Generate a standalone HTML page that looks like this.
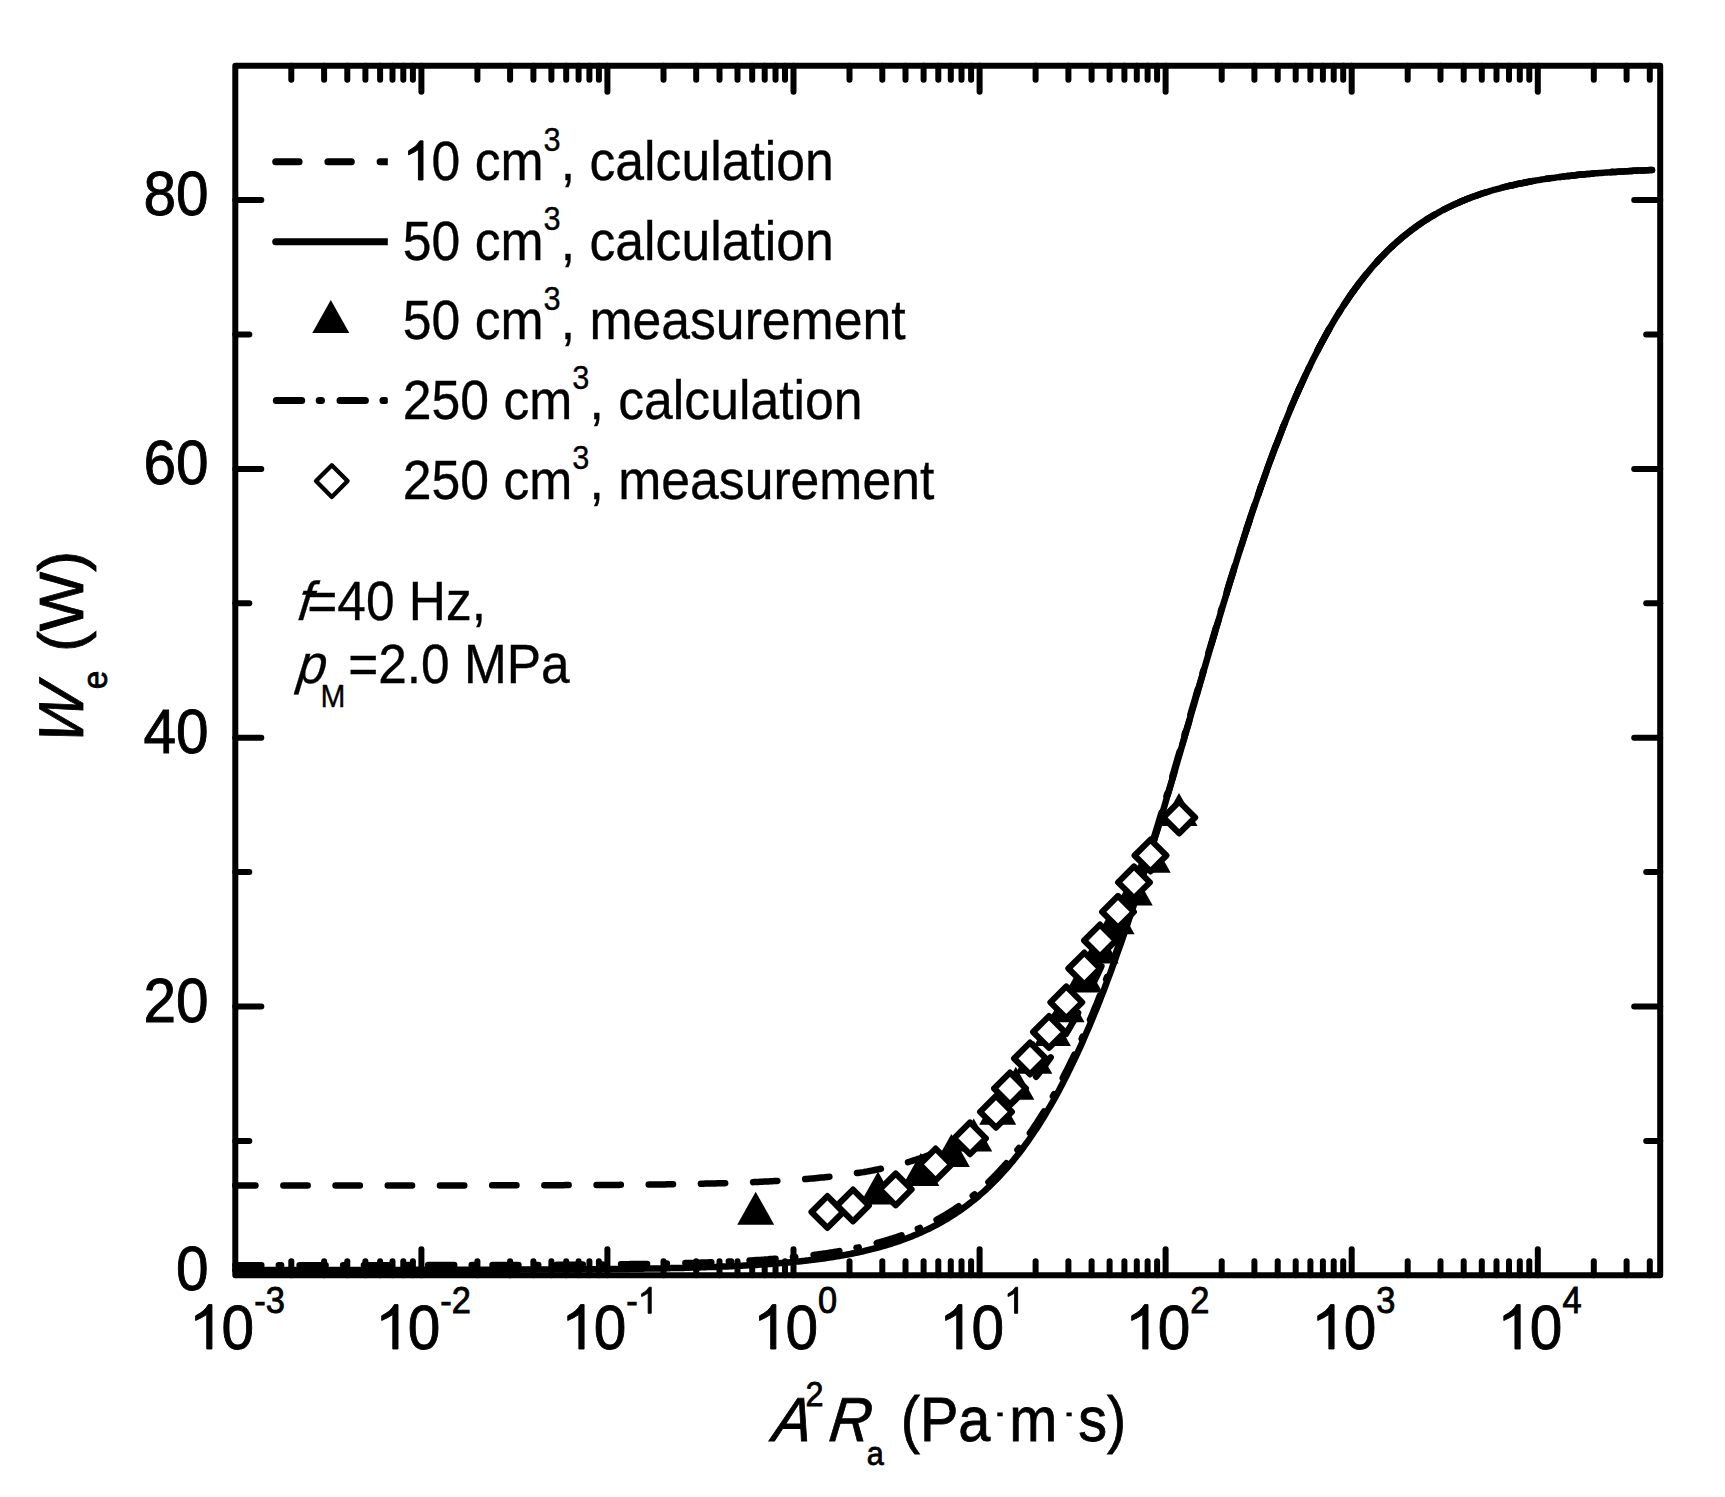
<!DOCTYPE html><html><head><meta charset="utf-8"><style>html,body{margin:0;padding:0;background:#fff;}svg{display:block;}text{font-family:"Liberation Sans",sans-serif;fill:#000;stroke:#000;stroke-width:0.9px;} text.l{stroke-width:0.35px;} text.t{stroke-width:0.8px;}</style></head><body>
<svg width="1725" height="1497" viewBox="0 0 1725 1497">
<rect x="0" y="0" width="1725" height="1497" fill="#fff"/>
<g fill="none" stroke="#000" stroke-width="6.5" stroke-linejoin="round">
<path d="M235.3 1269.9 L237.3 1269.9 L239.4 1269.9 L241.4 1269.9 L243.4 1269.9 L245.4 1269.9 L247.5 1269.9 L249.5 1269.9 L251.5 1269.9 L253.5 1269.9 L255.6 1269.9 L257.6 1269.9 L259.6 1269.9 L261.6 1269.9 L263.7 1269.9 L265.7 1269.9 L267.7 1269.9 L269.8 1269.9 L271.8 1269.9 L273.8 1269.9 L275.8 1269.9 L277.9 1269.9 L279.9 1269.9 L281.9 1269.9 L283.9 1269.9 L286.0 1269.9 L288.0 1269.9 L290.0 1269.9 L292.0 1269.9 L294.1 1269.9 L296.1 1269.9 L298.1 1269.9 L300.2 1269.9 L302.2 1269.9 L304.2 1269.9 L306.2 1269.9 L308.3 1269.9 L310.3 1269.9 L312.3 1269.9 L314.3 1269.9 L316.4 1269.9 L318.4 1269.9 L320.4 1269.9 L322.5 1269.9 L324.5 1269.9 L326.5 1269.9 L328.5 1269.9 L330.6 1269.9 L332.6 1269.9 L334.6 1269.9 L336.6 1269.9 L338.7 1269.9 L340.7 1269.9 L342.7 1269.9 L344.7 1269.9 L346.8 1269.9 L348.8 1269.9 L350.8 1269.9 L352.9 1269.9 L354.9 1269.9 L356.9 1269.9 L358.9 1269.9 L361.0 1269.9 L363.0 1269.9 L365.0 1269.9 L367.0 1269.9 L369.1 1269.9 L371.1 1269.9 L373.1 1269.9 L375.1 1269.9 L377.2 1269.9 L379.2 1269.9 L381.2 1269.9 L383.3 1269.9 L385.3 1269.9 L387.3 1269.9 L389.3 1269.9 L391.4 1269.9 L393.4 1269.9 L395.4 1269.9 L397.4 1269.9 L399.5 1269.9 L401.5 1269.9 L403.5 1269.9 L405.5 1269.9 L407.6 1269.9 L409.6 1269.9 L411.6 1269.9 L413.7 1269.8 L415.7 1269.8 L417.7 1269.8 L419.7 1269.8 L421.8 1269.8 L423.8 1269.8 L425.8 1269.8 L427.8 1269.8 L429.9 1269.8 L431.9 1269.8 L433.9 1269.8 L435.9 1269.8 L438.0 1269.8 L440.0 1269.8 L442.0 1269.8 L444.1 1269.8 L446.1 1269.8 L448.1 1269.8 L450.1 1269.8 L452.2 1269.8 L454.2 1269.8 L456.2 1269.8 L458.2 1269.8 L460.3 1269.8 L462.3 1269.8 L464.3 1269.8 L466.3 1269.8 L468.4 1269.8 L470.4 1269.8 L472.4 1269.8 L474.5 1269.8 L476.5 1269.8 L478.5 1269.8 L480.5 1269.8 L482.6 1269.7 L484.6 1269.7 L486.6 1269.7 L488.6 1269.7 L490.7 1269.7 L492.7 1269.7 L494.7 1269.7 L496.8 1269.7 L498.8 1269.7 L500.8 1269.7 L502.8 1269.7 L504.9 1269.7 L506.9 1269.7 L508.9 1269.7 L510.9 1269.7 L513.0 1269.7 L515.0 1269.7 L517.0 1269.7 L519.0 1269.7 L521.1 1269.6 L523.1 1269.6 L525.1 1269.6 L527.2 1269.6 L529.2 1269.6 L531.2 1269.6 L533.2 1269.6 L535.3 1269.6 L537.3 1269.6 L539.3 1269.6 L541.3 1269.6 L543.4 1269.6 L545.4 1269.5 L547.4 1269.5 L549.4 1269.5 L551.5 1269.5 L553.5 1269.5 L555.5 1269.5 L557.6 1269.5 L559.6 1269.5 L561.6 1269.5 L563.6 1269.5 L565.7 1269.4 L567.7 1269.4 L569.7 1269.4 L571.7 1269.4 L573.8 1269.4 L575.8 1269.4 L577.8 1269.4 L579.8 1269.3 L581.9 1269.3 L583.9 1269.3 L585.9 1269.3 L588.0 1269.3 L590.0 1269.3 L592.0 1269.3 L594.0 1269.2 L596.1 1269.2 L598.1 1269.2 L600.1 1269.2 L602.1 1269.2 L604.2 1269.1 L606.2 1269.1 L608.2 1269.1 L610.2 1269.1 L612.3 1269.1 L614.3 1269.0 L616.3 1269.0 L618.4 1269.0 L620.4 1269.0 L622.4 1268.9 L624.4 1268.9 L626.5 1268.9 L628.5 1268.9 L630.5 1268.8 L632.5 1268.8 L634.6 1268.8 L636.6 1268.8 L638.6 1268.7 L640.7 1268.7 L642.7 1268.7 L644.7 1268.6 L646.7 1268.6 L648.8 1268.6 L650.8 1268.5 L652.8 1268.5 L654.8 1268.5 L656.9 1268.4 L658.9 1268.4 L660.9 1268.4 L662.9 1268.3 L665.0 1268.3 L667.0 1268.2 L669.0 1268.2 L671.1 1268.1 L673.1 1268.1 L675.1 1268.1 L677.1 1268.0 L679.2 1268.0 L681.2 1267.9 L683.2 1267.9 L685.2 1267.8 L687.3 1267.8 L689.3 1267.7 L691.3 1267.6 L693.3 1267.6 L695.4 1267.5 L697.4 1267.5 L699.4 1267.4 L701.5 1267.3 L703.5 1267.3 L705.5 1267.2 L707.5 1267.1 L709.6 1267.1 L711.6 1267.0 L713.6 1266.9 L715.6 1266.9 L717.7 1266.8 L719.7 1266.7 L721.7 1266.6 L723.7 1266.5 L725.8 1266.4 L727.8 1266.4 L729.8 1266.3 L731.9 1266.2 L733.9 1266.1 L735.9 1266.0 L737.9 1265.9 L740.0 1265.8 L742.0 1265.7 L744.0 1265.6 L746.0 1265.5 L748.1 1265.3 L750.1 1265.2 L752.1 1265.1 L754.1 1265.0 L756.2 1264.9 L758.2 1264.7 L760.2 1264.6 L762.3 1264.5 L764.3 1264.3 L766.3 1264.2 L768.3 1264.1 L770.4 1263.9 L772.4 1263.8 L774.4 1263.6 L776.4 1263.4 L778.5 1263.3 L780.5 1263.1 L782.5 1262.9 L784.5 1262.8 L786.6 1262.6 L788.6 1262.4 L790.6 1262.2 L792.7 1262.0 L794.7 1261.8 L796.7 1261.6 L798.7 1261.4 L800.8 1261.2 L802.8 1261.0 L804.8 1260.8 L806.8 1260.5 L808.9 1260.3 L810.9 1260.0 L812.9 1259.8 L815.0 1259.5 L817.0 1259.3 L819.0 1259.0 L821.0 1258.7 L823.1 1258.5 L825.1 1258.2 L827.1 1257.9 L829.1 1257.6 L831.2 1257.3 L833.2 1257.0 L835.2 1256.6 L837.2 1256.3 L839.3 1256.0 L841.3 1255.6 L843.3 1255.3 L845.4 1254.9 L847.4 1254.5 L849.4 1254.1 L851.4 1253.7 L853.5 1253.3 L855.5 1252.9 L857.5 1252.5 L859.5 1252.1 L861.6 1251.6 L863.6 1251.2 L865.6 1250.7 L867.6 1250.2 L869.7 1249.7 L871.7 1249.2 L873.7 1248.7 L875.8 1248.2 L877.8 1247.6 L879.8 1247.1 L881.8 1246.5 L883.9 1245.9 L885.9 1245.3 L887.9 1244.7 L889.9 1244.1 L892.0 1243.5 L894.0 1242.8 L896.0 1242.1 L898.0 1241.5 L900.1 1240.8 L902.1 1240.0 L904.1 1239.3 L906.2 1238.5 L908.2 1237.8 L910.2 1237.0 L912.2 1236.2 L914.3 1235.3 L916.3 1234.5 L918.3 1233.6 L920.3 1232.7 L922.4 1231.8 L924.4 1230.9 L926.4 1229.9 L928.4 1229.0 L930.5 1228.0 L932.5 1226.9 L934.5 1225.9 L936.6 1224.8 L938.6 1223.7 L940.6 1222.6 L942.6 1221.5 L944.7 1220.3 L946.7 1219.1 L948.7 1217.9 L950.7 1216.6 L952.8 1215.3 L954.8 1214.0 L956.8 1212.6 L958.9 1211.3 L960.9 1209.9 L962.9 1208.4 L964.9 1207.0 L967.0 1205.4 L969.0 1203.9 L971.0 1202.3 L973.0 1200.7 L975.1 1199.1 L977.1 1197.4 L979.1 1195.7 L981.1 1193.9 L983.2 1192.1 L985.2 1190.3 L987.2 1188.4 L989.3 1186.5 L991.3 1184.5 L993.3 1182.5 L995.3 1180.5 L997.4 1178.4 L999.4 1176.3 L1001.4 1174.1 L1003.4 1171.9 L1005.5 1169.6 L1007.5 1167.3 L1009.5 1164.9 L1011.5 1162.5 L1013.6 1160.1 L1015.6 1157.5 L1017.6 1155.0 L1019.7 1152.4 L1021.7 1149.7 L1023.7 1147.0 L1025.7 1144.2 L1027.8 1141.4 L1029.8 1138.5 L1031.8 1135.5 L1033.8 1132.5 L1035.9 1129.5 L1037.9 1126.4 L1039.9 1123.2 L1041.9 1120.0 L1044.0 1116.7 L1046.0 1113.3 L1048.0 1109.9 L1050.1 1106.4 L1052.1 1102.9 L1054.1 1099.3 L1056.1 1095.6 L1058.2 1091.9 L1060.2 1088.1 L1062.2 1084.2 L1064.2 1080.3 L1066.3 1076.3 L1068.3 1072.2 L1070.3 1068.1 L1072.3 1063.9 L1074.4 1059.6 L1076.4 1055.3 L1078.4 1050.9 L1080.5 1046.5 L1082.5 1041.9 L1084.5 1037.3 L1086.5 1032.6 L1088.6 1027.9 L1090.6 1023.1 L1092.6 1018.2 L1094.6 1013.3 L1096.7 1008.3 L1098.7 1003.2 L1100.7 998.0 L1102.8 992.8 L1104.8 987.5 L1106.8 982.2 L1108.8 976.8 L1110.9 971.3 L1112.9 965.7 L1114.9 960.1 L1116.9 954.5 L1119.0 948.7 L1121.0 942.9 L1123.0 937.1 L1125.0 931.1 L1127.1 925.2 L1129.1 919.1 L1131.1 913.0 L1133.2 906.9 L1135.2 900.7 L1137.2 894.4 L1139.2 888.1 L1141.3 881.7 L1143.3 875.3 L1145.3 868.9 L1147.3 862.4 L1149.4 855.8 L1151.4 849.2 L1153.4 842.6 L1155.4 835.9 L1157.5 829.2 L1159.5 822.5 L1161.5 815.7 L1163.6 808.9 L1165.6 802.1 L1167.6 795.2 L1169.6 788.3 L1171.7 781.4 L1173.7 774.5 L1175.7 767.5 L1177.7 760.6 L1179.8 753.6 L1181.8 746.6 L1183.8 739.6 L1185.8 732.5 L1187.9 725.5 L1189.9 718.5 L1191.9 711.5 L1194.0 704.5 L1196.0 697.4 L1198.0 690.4 L1200.0 683.4 L1202.1 676.4 L1204.1 669.4 L1206.1 662.5 L1208.1 655.5 L1210.2 648.6 L1212.2 641.7 L1214.2 634.8 L1216.2 627.9 L1218.3 621.1 L1220.3 614.3 L1222.3 607.5 L1224.4 600.8 L1226.4 594.1 L1228.4 587.4 L1230.4 580.8 L1232.5 574.2 L1234.5 567.6 L1236.5 561.1 L1238.5 554.7 L1240.6 548.3 L1242.6 541.9 L1244.6 535.6 L1246.6 529.4 L1248.7 523.2 L1250.7 517.0 L1252.7 511.0 L1254.8 504.9 L1256.8 499.0 L1258.8 493.1 L1260.8 487.2 L1262.9 481.4 L1264.9 475.7 L1266.9 470.0 L1268.9 464.5 L1271.0 458.9 L1273.0 453.5 L1275.0 448.1 L1277.1 442.7 L1279.1 437.5 L1281.1 432.3 L1283.1 427.1 L1285.2 422.1 L1287.2 417.1 L1289.2 412.2 L1291.2 407.3 L1293.3 402.5 L1295.3 397.8 L1297.3 393.2 L1299.3 388.6 L1301.4 384.1 L1303.4 379.7 L1305.4 375.3 L1307.5 371.0 L1309.5 366.8 L1311.5 362.6 L1313.5 358.5 L1315.6 354.5 L1317.6 350.5 L1319.6 346.6 L1321.6 342.8 L1323.7 339.0 L1325.7 335.3 L1327.7 331.7 L1329.7 328.1 L1331.8 324.6 L1333.8 321.2 L1335.8 317.8 L1337.9 314.5 L1339.9 311.3 L1341.9 308.1 L1343.9 305.0 L1346.0 301.9 L1348.0 298.9 L1350.0 295.9 L1352.0 293.0 L1354.1 290.2 L1356.1 287.4 L1358.1 284.7 L1360.1 282.0 L1362.2 279.4 L1364.2 276.8 L1366.2 274.3 L1368.3 271.8 L1370.3 269.4 L1372.3 267.0 L1374.3 264.7 L1376.4 262.5 L1378.4 260.2 L1380.4 258.1 L1382.4 256.0 L1384.5 253.9 L1386.5 251.8 L1388.5 249.8 L1390.5 247.9 L1392.6 246.0 L1394.6 244.1 L1396.6 242.3 L1398.7 240.5 L1400.7 238.8 L1402.7 237.1 L1404.7 235.4 L1406.8 233.8 L1408.8 232.2 L1410.8 230.6 L1412.8 229.1 L1414.9 227.6 L1416.9 226.1 L1418.9 224.7 L1421.0 223.3 L1423.0 221.9 L1425.0 220.6 L1427.0 219.3 L1429.1 218.0 L1431.1 216.8 L1433.1 215.6 L1435.1 214.4 L1437.2 213.3 L1439.2 212.1 L1441.2 211.0 L1443.2 209.9 L1445.3 208.9 L1447.3 207.9 L1449.3 206.9 L1451.4 205.9 L1453.4 204.9 L1455.4 204.0 L1457.4 203.1 L1459.5 202.2 L1461.5 201.3 L1463.5 200.5 L1465.5 199.6 L1467.6 198.8 L1469.6 198.1 L1471.6 197.3 L1473.6 196.5 L1475.7 195.8 L1477.7 195.1 L1479.7 194.4 L1481.8 193.7 L1483.8 193.0 L1485.8 192.4 L1487.8 191.8 L1489.9 191.1 L1491.9 190.5 L1493.9 189.9 L1495.9 189.4 L1498.0 188.8 L1500.0 188.3 L1502.0 187.7 L1504.0 187.2 L1506.1 186.7 L1508.1 186.2 L1510.1 185.7 L1512.2 185.3 L1514.2 184.8 L1516.2 184.3 L1518.2 183.9 L1520.3 183.5 L1522.3 183.1 L1524.3 182.7 L1526.3 182.3 L1528.4 181.9 L1530.4 181.5 L1532.4 181.1 L1534.4 180.8 L1536.5 180.4 L1538.5 180.1 L1540.5 179.8 L1542.6 179.4 L1544.6 179.1 L1546.6 178.8 L1548.6 178.5 L1550.7 178.2 L1552.7 177.9 L1554.7 177.7 L1556.7 177.4 L1558.8 177.1 L1560.8 176.9 L1562.8 176.6 L1564.8 176.4 L1566.9 176.1 L1568.9 175.9 L1570.9 175.7 L1573.0 175.4 L1575.0 175.2 L1577.0 175.0 L1579.0 174.8 L1581.1 174.6 L1583.1 174.4 L1585.1 174.2 L1587.1 174.0 L1589.2 173.9 L1591.2 173.7 L1593.2 173.5 L1595.3 173.3 L1597.3 173.2 L1599.3 173.0 L1601.3 172.9 L1603.4 172.7 L1605.4 172.6 L1607.4 172.4 L1609.4 172.3 L1611.5 172.1 L1613.5 172.0 L1615.5 171.9 L1617.5 171.7 L1619.6 171.6 L1621.6 171.5 L1623.6 171.4 L1625.7 171.3 L1627.7 171.2 L1629.7 171.0 L1631.7 170.9 L1633.8 170.8 L1635.8 170.7 L1637.8 170.6 L1639.8 170.5 L1641.9 170.4 L1643.9 170.4 L1645.9 170.3 L1647.9 170.2 L1650.0 170.1 L1652.0 170.0" stroke-linecap="round"/>
<path d="M235.3 1265.2 L237.3 1265.2 L239.4 1265.2 L241.4 1265.2 L243.4 1265.2 L245.4 1265.2 L247.5 1265.2 L249.5 1265.2 L251.5 1265.2 L253.5 1265.2 L255.6 1265.2 L257.6 1265.2 L259.6 1265.2 L261.6 1265.2 L263.7 1265.2 L265.7 1265.2 L267.7 1265.2 L269.8 1265.2 L271.8 1265.2 L273.8 1265.2 L275.8 1265.2 L277.9 1265.2 L279.9 1265.2 L281.9 1265.2 L283.9 1265.2 L286.0 1265.2 L288.0 1265.2 L290.0 1265.2 L292.0 1265.2 L294.1 1265.2 L296.1 1265.2 L298.1 1265.2 L300.2 1265.2 L302.2 1265.2 L304.2 1265.2 L306.2 1265.2 L308.3 1265.2 L310.3 1265.2 L312.3 1265.2 L314.3 1265.2 L316.4 1265.2 L318.4 1265.2 L320.4 1265.2 L322.5 1265.2 L324.5 1265.2 L326.5 1265.2 L328.5 1265.2 L330.6 1265.2 L332.6 1265.2 L334.6 1265.2 L336.6 1265.2 L338.7 1265.2 L340.7 1265.2 L342.7 1265.2 L344.7 1265.2 L346.8 1265.2 L348.8 1265.2 L350.8 1265.2 L352.9 1265.2 L354.9 1265.2 L356.9 1265.2 L358.9 1265.2 L361.0 1265.2 L363.0 1265.2 L365.0 1265.2 L367.0 1265.2 L369.1 1265.2 L371.1 1265.2 L373.1 1265.2 L375.1 1265.2 L377.2 1265.2 L379.2 1265.2 L381.2 1265.2 L383.3 1265.2 L385.3 1265.2 L387.3 1265.2 L389.3 1265.2 L391.4 1265.2 L393.4 1265.2 L395.4 1265.2 L397.4 1265.2 L399.5 1265.2 L401.5 1265.2 L403.5 1265.2 L405.5 1265.2 L407.6 1265.1 L409.6 1265.1 L411.6 1265.1 L413.7 1265.1 L415.7 1265.1 L417.7 1265.1 L419.7 1265.1 L421.8 1265.1 L423.8 1265.1 L425.8 1265.1 L427.8 1265.1 L429.9 1265.1 L431.9 1265.1 L433.9 1265.1 L435.9 1265.1 L438.0 1265.1 L440.0 1265.1 L442.0 1265.1 L444.1 1265.1 L446.1 1265.1 L448.1 1265.1 L450.1 1265.1 L452.2 1265.1 L454.2 1265.1 L456.2 1265.1 L458.2 1265.1 L460.3 1265.1 L462.3 1265.1 L464.3 1265.1 L466.3 1265.1 L468.4 1265.1 L470.4 1265.1 L472.4 1265.1 L474.5 1265.1 L476.5 1265.1 L478.5 1265.1 L480.5 1265.0 L482.6 1265.0 L484.6 1265.0 L486.6 1265.0 L488.6 1265.0 L490.7 1265.0 L492.7 1265.0 L494.7 1265.0 L496.8 1265.0 L498.8 1265.0 L500.8 1265.0 L502.8 1265.0 L504.9 1265.0 L506.9 1265.0 L508.9 1265.0 L510.9 1265.0 L513.0 1265.0 L515.0 1265.0 L517.0 1265.0 L519.0 1264.9 L521.1 1264.9 L523.1 1264.9 L525.1 1264.9 L527.2 1264.9 L529.2 1264.9 L531.2 1264.9 L533.2 1264.9 L535.3 1264.9 L537.3 1264.9 L539.3 1264.9 L541.3 1264.9 L543.4 1264.8 L545.4 1264.8 L547.4 1264.8 L549.4 1264.8 L551.5 1264.8 L553.5 1264.8 L555.5 1264.8 L557.6 1264.8 L559.6 1264.8 L561.6 1264.8 L563.6 1264.7 L565.7 1264.7 L567.7 1264.7 L569.7 1264.7 L571.7 1264.7 L573.8 1264.7 L575.8 1264.7 L577.8 1264.7 L579.8 1264.6 L581.9 1264.6 L583.9 1264.6 L585.9 1264.6 L588.0 1264.6 L590.0 1264.6 L592.0 1264.5 L594.0 1264.5 L596.1 1264.5 L598.1 1264.5 L600.1 1264.5 L602.1 1264.5 L604.2 1264.4 L606.2 1264.4 L608.2 1264.4 L610.2 1264.4 L612.3 1264.3 L614.3 1264.3 L616.3 1264.3 L618.4 1264.3 L620.4 1264.3 L622.4 1264.2 L624.4 1264.2 L626.5 1264.2 L628.5 1264.2 L630.5 1264.1 L632.5 1264.1 L634.6 1264.1 L636.6 1264.0 L638.6 1264.0 L640.7 1264.0 L642.7 1264.0 L644.7 1263.9 L646.7 1263.9 L648.8 1263.9 L650.8 1263.8 L652.8 1263.8 L654.8 1263.7 L656.9 1263.7 L658.9 1263.7 L660.9 1263.6 L662.9 1263.6 L665.0 1263.6 L667.0 1263.5 L669.0 1263.5 L671.1 1263.4 L673.1 1263.4 L675.1 1263.3 L677.1 1263.3 L679.2 1263.2 L681.2 1263.2 L683.2 1263.1 L685.2 1263.1 L687.3 1263.0 L689.3 1263.0 L691.3 1262.9 L693.3 1262.9 L695.4 1262.8 L697.4 1262.7 L699.4 1262.7 L701.5 1262.6 L703.5 1262.5 L705.5 1262.5 L707.5 1262.4 L709.6 1262.3 L711.6 1262.3 L713.6 1262.2 L715.6 1262.1 L717.7 1262.0 L719.7 1262.0 L721.7 1261.9 L723.7 1261.8 L725.8 1261.7 L727.8 1261.6 L729.8 1261.5 L731.9 1261.4 L733.9 1261.3 L735.9 1261.2 L737.9 1261.1 L740.0 1261.0 L742.0 1260.9 L744.0 1260.8 L746.0 1260.7 L748.1 1260.6 L750.1 1260.5 L752.1 1260.4 L754.1 1260.2 L756.2 1260.1 L758.2 1260.0 L760.2 1259.9 L762.3 1259.7 L764.3 1259.6 L766.3 1259.4 L768.3 1259.3 L770.4 1259.1 L772.4 1259.0 L774.4 1258.8 L776.4 1258.7 L778.5 1258.5 L780.5 1258.3 L782.5 1258.2 L784.5 1258.0 L786.6 1257.8 L788.6 1257.6 L790.6 1257.4 L792.7 1257.2 L794.7 1257.0 L796.7 1256.8 L798.7 1256.6 L800.8 1256.4 L802.8 1256.2 L804.8 1256.0 L806.8 1255.7 L808.9 1255.5 L810.9 1255.2 L812.9 1255.0 L815.0 1254.7 L817.0 1254.5 L819.0 1254.2 L821.0 1253.9 L823.1 1253.6 L825.1 1253.4 L827.1 1253.1 L829.1 1252.8 L831.2 1252.4 L833.2 1252.1 L835.2 1251.8 L837.2 1251.5 L839.3 1251.1 L841.3 1250.8 L843.3 1250.4 L845.4 1250.0 L847.4 1249.7 L849.4 1249.3 L851.4 1248.9 L853.5 1248.5 L855.5 1248.0 L857.5 1247.6 L859.5 1247.2 L861.6 1246.7 L863.6 1246.3 L865.6 1245.8 L867.6 1245.3 L869.7 1244.8 L871.7 1244.3 L873.7 1243.8 L875.8 1243.3 L877.8 1242.7 L879.8 1242.2 L881.8 1241.6 L883.9 1241.0 L885.9 1240.4 L887.9 1239.8 L889.9 1239.2 L892.0 1238.5 L894.0 1237.9 L896.0 1237.2 L898.0 1236.5 L900.1 1235.8 L902.1 1235.1 L904.1 1234.3 L906.2 1233.6 L908.2 1232.8 L910.2 1232.0 L912.2 1231.2 L914.3 1230.3 L916.3 1229.5 L918.3 1228.6 L920.3 1227.7 L922.4 1226.8 L924.4 1225.9 L926.4 1224.9 L928.4 1223.9 L930.5 1222.9 L932.5 1221.9 L934.5 1220.8 L936.6 1219.8 L938.6 1218.7 L940.6 1217.5 L942.6 1216.4 L944.7 1215.2 L946.7 1214.0 L948.7 1212.7 L950.7 1211.5 L952.8 1210.2 L954.8 1208.9 L956.8 1207.5 L958.9 1206.1 L960.9 1204.7 L962.9 1203.3 L964.9 1201.8 L967.0 1200.3 L969.0 1198.7 L971.0 1197.1 L973.0 1195.5 L975.1 1193.9 L977.1 1192.2 L979.1 1190.5 L981.1 1188.7 L983.2 1186.9 L985.2 1185.1 L987.2 1183.2 L989.3 1181.3 L991.3 1179.3 L993.3 1177.3 L995.3 1175.2 L997.4 1173.1 L999.4 1171.0 L1001.4 1168.8 L1003.4 1166.6 L1005.5 1164.3 L1007.5 1162.0 L1009.5 1159.6 L1011.5 1157.2 L1013.6 1154.8 L1015.6 1152.3 L1017.6 1149.7 L1019.7 1147.1 L1021.7 1144.4 L1023.7 1141.7 L1025.7 1138.9 L1027.8 1136.1 L1029.8 1133.2 L1031.8 1130.2 L1033.8 1127.2 L1035.9 1124.2 L1037.9 1121.1 L1039.9 1117.9 L1041.9 1114.7 L1044.0 1111.4 L1046.0 1108.0 L1048.0 1104.6 L1050.1 1101.2 L1052.1 1097.6 L1054.1 1094.0 L1056.1 1090.4 L1058.2 1086.7 L1060.2 1082.9 L1062.2 1079.0 L1064.2 1075.1 L1066.3 1071.1 L1068.3 1067.1 L1070.3 1063.0 L1072.3 1058.8 L1074.4 1054.6 L1076.4 1050.3 L1078.4 1045.9 L1080.5 1041.4 L1082.5 1036.9 L1084.5 1032.3 L1086.5 1027.7 L1088.6 1023.0 L1090.6 1018.2 L1092.6 1013.4 L1094.6 1008.5 L1096.7 1003.5 L1098.7 998.4 L1100.7 993.3 L1102.8 988.1 L1104.8 982.9 L1106.8 977.6 L1108.8 972.2 L1110.9 966.8 L1112.9 961.3 L1114.9 955.7 L1116.9 950.1 L1119.0 944.4 L1121.0 938.6 L1123.0 932.8 L1125.0 927.0 L1127.1 921.0 L1129.1 915.0 L1131.1 909.0 L1133.2 902.9 L1135.2 896.8 L1137.2 890.6 L1139.2 884.3 L1141.3 878.0 L1143.3 871.7 L1145.3 865.3 L1147.3 858.8 L1149.4 852.3 L1151.4 845.8 L1153.4 839.2 L1155.4 832.6 L1157.5 826.0 L1159.5 819.3 L1161.5 812.6 L1163.6 805.9 L1165.6 799.1 L1167.6 792.3 L1169.6 785.5 L1171.7 778.6 L1173.7 771.8 L1175.7 764.9 L1177.7 758.0 L1179.8 751.0 L1181.8 744.1 L1183.8 737.2 L1185.8 730.2 L1187.9 723.3 L1189.9 716.3 L1191.9 709.3 L1194.0 702.4 L1196.0 695.4 L1198.0 688.5 L1200.0 681.5 L1202.1 674.6 L1204.1 667.7 L1206.1 660.7 L1208.1 653.9 L1210.2 647.0 L1212.2 640.1 L1214.2 633.3 L1216.2 626.5 L1218.3 619.7 L1220.3 612.9 L1222.3 606.2 L1224.4 599.5 L1226.4 592.9 L1228.4 586.3 L1230.4 579.7 L1232.5 573.1 L1234.5 566.6 L1236.5 560.2 L1238.5 553.8 L1240.6 547.4 L1242.6 541.1 L1244.6 534.8 L1246.6 528.6 L1248.7 522.4 L1250.7 516.3 L1252.7 510.3 L1254.8 504.3 L1256.8 498.4 L1258.8 492.5 L1260.8 486.7 L1262.9 480.9 L1264.9 475.2 L1266.9 469.6 L1268.9 464.0 L1271.0 458.5 L1273.0 453.0 L1275.0 447.7 L1277.1 442.4 L1279.1 437.1 L1281.1 431.9 L1283.1 426.8 L1285.2 421.8 L1287.2 416.8 L1289.2 411.9 L1291.2 407.1 L1293.3 402.3 L1295.3 397.6 L1297.3 393.0 L1299.3 388.4 L1301.4 383.9 L1303.4 379.5 L1305.4 375.1 L1307.5 370.8 L1309.5 366.6 L1311.5 362.5 L1313.5 358.4 L1315.6 354.3 L1317.6 350.4 L1319.6 346.5 L1321.6 342.7 L1323.7 338.9 L1325.7 335.2 L1327.7 331.6 L1329.7 328.1 L1331.8 324.6 L1333.8 321.1 L1335.8 317.8 L1337.9 314.5 L1339.9 311.2 L1341.9 308.0 L1343.9 304.9 L1346.0 301.8 L1348.0 298.8 L1350.0 295.9 L1352.0 293.0 L1354.1 290.1 L1356.1 287.4 L1358.1 284.6 L1360.1 282.0 L1362.2 279.3 L1364.2 276.8 L1366.2 274.3 L1368.3 271.8 L1370.3 269.4 L1372.3 267.0 L1374.3 264.7 L1376.4 262.4 L1378.4 260.2 L1380.4 258.1 L1382.4 255.9 L1384.5 253.9 L1386.5 251.8 L1388.5 249.8 L1390.5 247.9 L1392.6 246.0 L1394.6 244.1 L1396.6 242.3 L1398.7 240.5 L1400.7 238.8 L1402.7 237.0 L1404.7 235.4 L1406.8 233.7 L1408.8 232.1 L1410.8 230.6 L1412.8 229.1 L1414.9 227.6 L1416.9 226.1 L1418.9 224.7 L1421.0 223.3 L1423.0 221.9 L1425.0 220.6 L1427.0 219.3 L1429.1 218.0 L1431.1 216.8 L1433.1 215.6 L1435.1 214.4 L1437.2 213.3 L1439.2 212.1 L1441.2 211.0 L1443.2 209.9 L1445.3 208.9 L1447.3 207.9 L1449.3 206.9 L1451.4 205.9 L1453.4 204.9 L1455.4 204.0 L1457.4 203.1 L1459.5 202.2 L1461.5 201.3 L1463.5 200.5 L1465.5 199.6 L1467.6 198.8 L1469.6 198.1 L1471.6 197.3 L1473.6 196.5 L1475.7 195.8 L1477.7 195.1 L1479.7 194.4 L1481.8 193.7 L1483.8 193.0 L1485.8 192.4 L1487.8 191.8 L1489.9 191.1 L1491.9 190.5 L1493.9 189.9 L1495.9 189.4 L1498.0 188.8 L1500.0 188.3 L1502.0 187.7 L1504.0 187.2 L1506.1 186.7 L1508.1 186.2 L1510.1 185.7 L1512.2 185.3 L1514.2 184.8 L1516.2 184.3 L1518.2 183.9 L1520.3 183.5 L1522.3 183.1 L1524.3 182.7 L1526.3 182.3 L1528.4 181.9 L1530.4 181.5 L1532.4 181.1 L1534.4 180.8 L1536.5 180.4 L1538.5 180.1 L1540.5 179.8 L1542.6 179.4 L1544.6 179.1 L1546.6 178.8 L1548.6 178.5 L1550.7 178.2 L1552.7 177.9 L1554.7 177.7 L1556.7 177.4 L1558.8 177.1 L1560.8 176.9 L1562.8 176.6 L1564.8 176.4 L1566.9 176.1 L1568.9 175.9 L1570.9 175.7 L1573.0 175.4 L1575.0 175.2 L1577.0 175.0 L1579.0 174.8 L1581.1 174.6 L1583.1 174.4 L1585.1 174.2 L1587.1 174.0 L1589.2 173.9 L1591.2 173.7 L1593.2 173.5 L1595.3 173.3 L1597.3 173.2 L1599.3 173.0 L1601.3 172.9 L1603.4 172.7 L1605.4 172.6 L1607.4 172.4 L1609.4 172.3 L1611.5 172.1 L1613.5 172.0 L1615.5 171.9 L1617.5 171.7 L1619.6 171.6 L1621.6 171.5 L1623.6 171.4 L1625.7 171.3 L1627.7 171.2 L1629.7 171.0 L1631.7 170.9 L1633.8 170.8 L1635.8 170.7 L1637.8 170.6 L1639.8 170.5 L1641.9 170.4 L1643.9 170.4 L1645.9 170.3 L1647.9 170.2 L1650.0 170.1 L1652.0 170.0" stroke-dasharray="26 17.5 2.3 18.5" stroke-linecap="round"/>
<path d="M235.3 1185.4 L237.3 1185.4 L239.4 1185.4 L241.4 1185.4 L243.4 1185.4 L245.4 1185.4 L247.5 1185.4 L249.5 1185.4 L251.5 1185.4 L253.5 1185.4 L255.6 1185.4 L257.6 1185.4 L259.6 1185.4 L261.6 1185.4 L263.7 1185.4 L265.7 1185.4 L267.7 1185.4 L269.8 1185.4 L271.8 1185.4 L273.8 1185.4 L275.8 1185.4 L277.9 1185.4 L279.9 1185.4 L281.9 1185.4 L283.9 1185.4 L286.0 1185.4 L288.0 1185.4 L290.0 1185.4 L292.0 1185.4 L294.1 1185.4 L296.1 1185.4 L298.1 1185.4 L300.2 1185.4 L302.2 1185.4 L304.2 1185.4 L306.2 1185.4 L308.3 1185.4 L310.3 1185.4 L312.3 1185.4 L314.3 1185.4 L316.4 1185.4 L318.4 1185.4 L320.4 1185.4 L322.5 1185.4 L324.5 1185.4 L326.5 1185.4 L328.5 1185.4 L330.6 1185.4 L332.6 1185.4 L334.6 1185.4 L336.6 1185.4 L338.7 1185.4 L340.7 1185.4 L342.7 1185.4 L344.7 1185.4 L346.8 1185.4 L348.8 1185.4 L350.8 1185.4 L352.9 1185.4 L354.9 1185.4 L356.9 1185.4 L358.9 1185.4 L361.0 1185.4 L363.0 1185.4 L365.0 1185.4 L367.0 1185.4 L369.1 1185.4 L371.1 1185.4 L373.1 1185.4 L375.1 1185.4 L377.2 1185.4 L379.2 1185.4 L381.2 1185.4 L383.3 1185.4 L385.3 1185.4 L387.3 1185.4 L389.3 1185.4 L391.4 1185.4 L393.4 1185.4 L395.4 1185.4 L397.4 1185.4 L399.5 1185.4 L401.5 1185.4 L403.5 1185.4 L405.5 1185.4 L407.6 1185.4 L409.6 1185.4 L411.6 1185.4 L413.7 1185.4 L415.7 1185.4 L417.7 1185.4 L419.7 1185.4 L421.8 1185.4 L423.8 1185.4 L425.8 1185.4 L427.8 1185.4 L429.9 1185.4 L431.9 1185.4 L433.9 1185.4 L435.9 1185.4 L438.0 1185.4 L440.0 1185.4 L442.0 1185.4 L444.1 1185.4 L446.1 1185.4 L448.1 1185.4 L450.1 1185.4 L452.2 1185.4 L454.2 1185.4 L456.2 1185.4 L458.2 1185.4 L460.3 1185.4 L462.3 1185.4 L464.3 1185.4 L466.3 1185.4 L468.4 1185.4 L470.4 1185.4 L472.4 1185.4 L474.5 1185.4 L476.5 1185.4 L478.5 1185.4 L480.5 1185.3 L482.6 1185.3 L484.6 1185.3 L486.6 1185.3 L488.6 1185.3 L490.7 1185.3 L492.7 1185.3 L494.7 1185.3 L496.8 1185.3 L498.8 1185.3 L500.8 1185.3 L502.8 1185.3 L504.9 1185.3 L506.9 1185.3 L508.9 1185.3 L510.9 1185.3 L513.0 1185.3 L515.0 1185.3 L517.0 1185.3 L519.0 1185.3 L521.1 1185.3 L523.1 1185.3 L525.1 1185.3 L527.2 1185.3 L529.2 1185.3 L531.2 1185.3 L533.2 1185.3 L535.3 1185.2 L537.3 1185.2 L539.3 1185.2 L541.3 1185.2 L543.4 1185.2 L545.4 1185.2 L547.4 1185.2 L549.4 1185.2 L551.5 1185.2 L553.5 1185.2 L555.5 1185.2 L557.6 1185.2 L559.6 1185.2 L561.6 1185.2 L563.6 1185.2 L565.7 1185.1 L567.7 1185.1 L569.7 1185.1 L571.7 1185.1 L573.8 1185.1 L575.8 1185.1 L577.8 1185.1 L579.8 1185.1 L581.9 1185.1 L583.9 1185.1 L585.9 1185.1 L588.0 1185.0 L590.0 1185.0 L592.0 1185.0 L594.0 1185.0 L596.1 1185.0 L598.1 1185.0 L600.1 1185.0 L602.1 1185.0 L604.2 1185.0 L606.2 1184.9 L608.2 1184.9 L610.2 1184.9 L612.3 1184.9 L614.3 1184.9 L616.3 1184.9 L618.4 1184.9 L620.4 1184.8 L622.4 1184.8 L624.4 1184.8 L626.5 1184.8 L628.5 1184.8 L630.5 1184.8 L632.5 1184.7 L634.6 1184.7 L636.6 1184.7 L638.6 1184.7 L640.7 1184.7 L642.7 1184.6 L644.7 1184.6 L646.7 1184.6 L648.8 1184.6 L650.8 1184.5 L652.8 1184.5 L654.8 1184.5 L656.9 1184.5 L658.9 1184.4 L660.9 1184.4 L662.9 1184.4 L665.0 1184.4 L667.0 1184.3 L669.0 1184.3 L671.1 1184.3 L673.1 1184.3 L675.1 1184.2 L677.1 1184.2 L679.2 1184.2 L681.2 1184.1 L683.2 1184.1 L685.2 1184.0 L687.3 1184.0 L689.3 1184.0 L691.3 1183.9 L693.3 1183.9 L695.4 1183.9 L697.4 1183.8 L699.4 1183.8 L701.5 1183.7 L703.5 1183.7 L705.5 1183.6 L707.5 1183.6 L709.6 1183.5 L711.6 1183.5 L713.6 1183.4 L715.6 1183.4 L717.7 1183.3 L719.7 1183.3 L721.7 1183.2 L723.7 1183.2 L725.8 1183.1 L727.8 1183.0 L729.8 1183.0 L731.9 1182.9 L733.9 1182.9 L735.9 1182.8 L737.9 1182.7 L740.0 1182.6 L742.0 1182.6 L744.0 1182.5 L746.0 1182.4 L748.1 1182.3 L750.1 1182.3 L752.1 1182.2 L754.1 1182.1 L756.2 1182.0 L758.2 1181.9 L760.2 1181.8 L762.3 1181.7 L764.3 1181.6 L766.3 1181.5 L768.3 1181.4 L770.4 1181.3 L772.4 1181.2 L774.4 1181.1 L776.4 1181.0 L778.5 1180.9 L780.5 1180.8 L782.5 1180.6 L784.5 1180.5 L786.6 1180.4 L788.6 1180.2 L790.6 1180.1 L792.7 1180.0 L794.7 1179.8 L796.7 1179.7 L798.7 1179.5 L800.8 1179.4 L802.8 1179.2 L804.8 1179.1 L806.8 1178.9 L808.9 1178.7 L810.9 1178.6 L812.9 1178.4 L815.0 1178.2 L817.0 1178.0 L819.0 1177.8 L821.0 1177.6 L823.1 1177.4 L825.1 1177.2 L827.1 1177.0 L829.1 1176.8 L831.2 1176.5 L833.2 1176.3 L835.2 1176.1 L837.2 1175.8 L839.3 1175.6 L841.3 1175.3 L843.3 1175.1 L845.4 1174.8 L847.4 1174.5 L849.4 1174.2 L851.4 1173.9 L853.5 1173.7 L855.5 1173.3 L857.5 1173.0 L859.5 1172.7 L861.6 1172.4 L863.6 1172.1 L865.6 1171.7 L867.6 1171.4 L869.7 1171.0 L871.7 1170.6 L873.7 1170.2 L875.8 1169.8 L877.8 1169.4 L879.8 1169.0 L881.8 1168.6 L883.9 1168.2 L885.9 1167.7 L887.9 1167.3 L889.9 1166.8 L892.0 1166.3 L894.0 1165.8 L896.0 1165.3 L898.0 1164.8 L900.1 1164.3 L902.1 1163.8 L904.1 1163.2 L906.2 1162.6 L908.2 1162.1 L910.2 1161.5 L912.2 1160.9 L914.3 1160.2 L916.3 1159.6 L918.3 1158.9 L920.3 1158.3 L922.4 1157.6 L924.4 1156.9 L926.4 1156.1 L928.4 1155.4 L930.5 1154.6 L932.5 1153.8 L934.5 1153.0 L936.6 1152.2 L938.6 1151.4 L940.6 1150.5 L942.6 1149.6 L944.7 1148.7 L946.7 1147.8 L948.7 1146.9 L950.7 1145.9 L952.8 1144.9 L954.8 1143.9 L956.8 1142.9 L958.9 1141.8 L960.9 1140.7 L962.9 1139.6 L964.9 1138.5 L967.0 1137.3 L969.0 1136.1 L971.0 1134.9 L973.0 1133.6 L975.1 1132.3 L977.1 1131.0 L979.1 1129.7 L981.1 1128.3 L983.2 1126.9 L985.2 1125.5 L987.2 1124.0 L989.3 1122.5 L991.3 1120.9 L993.3 1119.4 L995.3 1117.8 L997.4 1116.1 L999.4 1114.4 L1001.4 1112.7 L1003.4 1110.9 L1005.5 1109.1 L1007.5 1107.3 L1009.5 1105.4 L1011.5 1103.5 L1013.6 1101.5 L1015.6 1099.5 L1017.6 1097.5 L1019.7 1095.4 L1021.7 1093.2 L1023.7 1091.1 L1025.7 1088.8 L1027.8 1086.6 L1029.8 1084.2 L1031.8 1081.9 L1033.8 1079.4 L1035.9 1077.0 L1037.9 1074.4 L1039.9 1071.9 L1041.9 1069.2 L1044.0 1066.6 L1046.0 1063.8 L1048.0 1061.0 L1050.1 1058.2 L1052.1 1055.3 L1054.1 1052.3 L1056.1 1049.3 L1058.2 1046.3 L1060.2 1043.1 L1062.2 1039.9 L1064.2 1036.7 L1066.3 1033.4 L1068.3 1030.0 L1070.3 1026.6 L1072.3 1023.1 L1074.4 1019.6 L1076.4 1016.0 L1078.4 1012.3 L1080.5 1008.6 L1082.5 1004.8 L1084.5 1000.9 L1086.5 997.0 L1088.6 993.0 L1090.6 988.9 L1092.6 984.8 L1094.6 980.6 L1096.7 976.4 L1098.7 972.1 L1100.7 967.7 L1102.8 963.2 L1104.8 958.7 L1106.8 954.1 L1108.8 950.1 L1110.9 946.4 L1112.9 942.7 L1114.9 938.8 L1116.9 934.8 L1119.0 930.7 L1121.0 926.5 L1123.0 922.1 L1125.0 917.7 L1127.1 913.1 L1129.1 908.4 L1131.1 903.6 L1133.2 898.6 L1135.2 893.6 L1137.2 888.4 L1139.2 883.1 L1141.3 877.7 L1143.3 872.1 L1145.3 866.5 L1147.3 860.7 L1149.4 854.9 L1151.4 848.9 L1153.4 842.6 L1155.4 835.9 L1157.5 829.2 L1159.5 822.5 L1161.5 815.7 L1163.6 808.9 L1165.6 802.1 L1167.6 795.2 L1169.6 788.3 L1171.7 781.4 L1173.7 774.5 L1175.7 767.5 L1177.7 760.6 L1179.8 753.6 L1181.8 746.6 L1183.8 739.6 L1185.8 732.5 L1187.9 725.5 L1189.9 718.5 L1191.9 711.5 L1194.0 704.5 L1196.0 697.4 L1198.0 690.4 L1200.0 683.4 L1202.1 676.4 L1204.1 669.4 L1206.1 662.5 L1208.1 655.5 L1210.2 648.6 L1212.2 641.7 L1214.2 634.8 L1216.2 627.9 L1218.3 621.1 L1220.3 614.3 L1222.3 607.5 L1224.4 600.8 L1226.4 594.1 L1228.4 587.4 L1230.4 580.8 L1232.5 574.2 L1234.5 567.6 L1236.5 561.1 L1238.5 554.7 L1240.6 548.3 L1242.6 541.9 L1244.6 535.6 L1246.6 529.4 L1248.7 523.2 L1250.7 517.0 L1252.7 511.0 L1254.8 504.9 L1256.8 499.0 L1258.8 493.1 L1260.8 487.2 L1262.9 481.4 L1264.9 475.7 L1266.9 470.0 L1268.9 464.5 L1271.0 458.9 L1273.0 453.5 L1275.0 448.1 L1277.1 442.7 L1279.1 437.5 L1281.1 432.3 L1283.1 427.1 L1285.2 422.1 L1287.2 417.1 L1289.2 412.2 L1291.2 407.3 L1293.3 402.5 L1295.3 397.8 L1297.3 393.2 L1299.3 388.6 L1301.4 384.1 L1303.4 379.7 L1305.4 375.3 L1307.5 371.0 L1309.5 366.8 L1311.5 362.6 L1313.5 358.5 L1315.6 354.5 L1317.6 350.5 L1319.6 346.6 L1321.6 342.8 L1323.7 339.0 L1325.7 335.3 L1327.7 331.7 L1329.7 328.1 L1331.8 324.6 L1333.8 321.2 L1335.8 317.8 L1337.9 314.5 L1339.9 311.3 L1341.9 308.1 L1343.9 305.0 L1346.0 301.9 L1348.0 298.9 L1350.0 295.9 L1352.0 293.0 L1354.1 290.2 L1356.1 287.4 L1358.1 284.7 L1360.1 282.0 L1362.2 279.4 L1364.2 276.8 L1366.2 274.3 L1368.3 271.8 L1370.3 269.4 L1372.3 267.0 L1374.3 264.7 L1376.4 262.5 L1378.4 260.2 L1380.4 258.1 L1382.4 256.0 L1384.5 253.9 L1386.5 251.8 L1388.5 249.8 L1390.5 247.9 L1392.6 246.0 L1394.6 244.1 L1396.6 242.3 L1398.7 240.5 L1400.7 238.8 L1402.7 237.1 L1404.7 235.4 L1406.8 233.8 L1408.8 232.2 L1410.8 230.6 L1412.8 229.1 L1414.9 227.6 L1416.9 226.1 L1418.9 224.7 L1421.0 223.3 L1423.0 221.9 L1425.0 220.6 L1427.0 219.3 L1429.1 218.0 L1431.1 216.8 L1433.1 215.6 L1435.1 214.4 L1437.2 213.3 L1439.2 212.1 L1441.2 211.0 L1443.2 209.9 L1445.3 208.9 L1447.3 207.9 L1449.3 206.9 L1451.4 205.9 L1453.4 204.9 L1455.4 204.0 L1457.4 203.1 L1459.5 202.2 L1461.5 201.3 L1463.5 200.5 L1465.5 199.6 L1467.6 198.8 L1469.6 198.1 L1471.6 197.3 L1473.6 196.5 L1475.7 195.8 L1477.7 195.1 L1479.7 194.4 L1481.8 193.7 L1483.8 193.0 L1485.8 192.4 L1487.8 191.8 L1489.9 191.1 L1491.9 190.5 L1493.9 189.9 L1495.9 189.4 L1498.0 188.8 L1500.0 188.3 L1502.0 187.7 L1504.0 187.2 L1506.1 186.7 L1508.1 186.2 L1510.1 185.7 L1512.2 185.3 L1514.2 184.8 L1516.2 184.3 L1518.2 183.9 L1520.3 183.5 L1522.3 183.1 L1524.3 182.7 L1526.3 182.3 L1528.4 181.9 L1530.4 181.5 L1532.4 181.1 L1534.4 180.8 L1536.5 180.4 L1538.5 180.1 L1540.5 179.8 L1542.6 179.4 L1544.6 179.1 L1546.6 178.8 L1548.6 178.5 L1550.7 178.2 L1552.7 177.9 L1554.7 177.7 L1556.7 177.4 L1558.8 177.1 L1560.8 176.9 L1562.8 176.6 L1564.8 176.4 L1566.9 176.1 L1568.9 175.9 L1570.9 175.7 L1573.0 175.4 L1575.0 175.2 L1577.0 175.0 L1579.0 174.8 L1581.1 174.6 L1583.1 174.4 L1585.1 174.2 L1587.1 174.0 L1589.2 173.9 L1591.2 173.7 L1593.2 173.5 L1595.3 173.3 L1597.3 173.2 L1599.3 173.0 L1601.3 172.9 L1603.4 172.7 L1605.4 172.6 L1607.4 172.4 L1609.4 172.3 L1611.5 172.1 L1613.5 172.0 L1615.5 171.9 L1617.5 171.7 L1619.6 171.6 L1621.6 171.5 L1623.6 171.4 L1625.7 171.3 L1627.7 171.2 L1629.7 171.0 L1631.7 170.9 L1633.8 170.8 L1635.8 170.7 L1637.8 170.6 L1639.8 170.5 L1641.9 170.4 L1643.9 170.4 L1645.9 170.3 L1647.9 170.2 L1650.0 170.1 L1652.0 170.0" stroke-dasharray="24.3 27.9" stroke-dashoffset="4.15" stroke-linecap="round"/>
</g>
<g fill="none" stroke="#000" stroke-width="6" stroke-linecap="round">
<rect x="235.3" y="65.7" width="1424.9" height="1209.6" stroke-linejoin="round"/>
<line x1="291.3" y1="1275.3" x2="291.3" y2="1261.3"/>
<line x1="291.3" y1="65.7" x2="291.3" y2="79.7"/>
<line x1="324.1" y1="1275.3" x2="324.1" y2="1261.3"/>
<line x1="324.1" y1="65.7" x2="324.1" y2="79.7"/>
<line x1="347.3" y1="1275.3" x2="347.3" y2="1261.3"/>
<line x1="347.3" y1="65.7" x2="347.3" y2="79.7"/>
<line x1="365.4" y1="1275.3" x2="365.4" y2="1261.3"/>
<line x1="365.4" y1="65.7" x2="365.4" y2="79.7"/>
<line x1="380.1" y1="1275.3" x2="380.1" y2="1261.3"/>
<line x1="380.1" y1="65.7" x2="380.1" y2="79.7"/>
<line x1="392.5" y1="1275.3" x2="392.5" y2="1261.3"/>
<line x1="392.5" y1="65.7" x2="392.5" y2="79.7"/>
<line x1="403.3" y1="1275.3" x2="403.3" y2="1261.3"/>
<line x1="403.3" y1="65.7" x2="403.3" y2="79.7"/>
<line x1="412.9" y1="1275.3" x2="412.9" y2="1261.3"/>
<line x1="412.9" y1="65.7" x2="412.9" y2="79.7"/>
<line x1="421.4" y1="1275.3" x2="421.4" y2="1249.3"/>
<line x1="421.4" y1="65.7" x2="421.4" y2="91.7"/>
<line x1="477.4" y1="1275.3" x2="477.4" y2="1261.3"/>
<line x1="477.4" y1="65.7" x2="477.4" y2="79.7"/>
<line x1="510.1" y1="1275.3" x2="510.1" y2="1261.3"/>
<line x1="510.1" y1="65.7" x2="510.1" y2="79.7"/>
<line x1="533.4" y1="1275.3" x2="533.4" y2="1261.3"/>
<line x1="533.4" y1="65.7" x2="533.4" y2="79.7"/>
<line x1="551.4" y1="1275.3" x2="551.4" y2="1261.3"/>
<line x1="551.4" y1="65.7" x2="551.4" y2="79.7"/>
<line x1="566.2" y1="1275.3" x2="566.2" y2="1261.3"/>
<line x1="566.2" y1="65.7" x2="566.2" y2="79.7"/>
<line x1="578.6" y1="1275.3" x2="578.6" y2="1261.3"/>
<line x1="578.6" y1="65.7" x2="578.6" y2="79.7"/>
<line x1="589.4" y1="1275.3" x2="589.4" y2="1261.3"/>
<line x1="589.4" y1="65.7" x2="589.4" y2="79.7"/>
<line x1="598.9" y1="1275.3" x2="598.9" y2="1261.3"/>
<line x1="598.9" y1="65.7" x2="598.9" y2="79.7"/>
<line x1="607.4" y1="1275.3" x2="607.4" y2="1249.3"/>
<line x1="607.4" y1="65.7" x2="607.4" y2="91.7"/>
<line x1="663.5" y1="1275.3" x2="663.5" y2="1261.3"/>
<line x1="663.5" y1="65.7" x2="663.5" y2="79.7"/>
<line x1="696.2" y1="1275.3" x2="696.2" y2="1261.3"/>
<line x1="696.2" y1="65.7" x2="696.2" y2="79.7"/>
<line x1="719.5" y1="1275.3" x2="719.5" y2="1261.3"/>
<line x1="719.5" y1="65.7" x2="719.5" y2="79.7"/>
<line x1="737.5" y1="1275.3" x2="737.5" y2="1261.3"/>
<line x1="737.5" y1="65.7" x2="737.5" y2="79.7"/>
<line x1="752.2" y1="1275.3" x2="752.2" y2="1261.3"/>
<line x1="752.2" y1="65.7" x2="752.2" y2="79.7"/>
<line x1="764.7" y1="1275.3" x2="764.7" y2="1261.3"/>
<line x1="764.7" y1="65.7" x2="764.7" y2="79.7"/>
<line x1="775.5" y1="1275.3" x2="775.5" y2="1261.3"/>
<line x1="775.5" y1="65.7" x2="775.5" y2="79.7"/>
<line x1="785.0" y1="1275.3" x2="785.0" y2="1261.3"/>
<line x1="785.0" y1="65.7" x2="785.0" y2="79.7"/>
<line x1="793.5" y1="1275.3" x2="793.5" y2="1249.3"/>
<line x1="793.5" y1="65.7" x2="793.5" y2="91.7"/>
<line x1="849.5" y1="1275.3" x2="849.5" y2="1261.3"/>
<line x1="849.5" y1="65.7" x2="849.5" y2="79.7"/>
<line x1="882.3" y1="1275.3" x2="882.3" y2="1261.3"/>
<line x1="882.3" y1="65.7" x2="882.3" y2="79.7"/>
<line x1="905.5" y1="1275.3" x2="905.5" y2="1261.3"/>
<line x1="905.5" y1="65.7" x2="905.5" y2="79.7"/>
<line x1="923.6" y1="1275.3" x2="923.6" y2="1261.3"/>
<line x1="923.6" y1="65.7" x2="923.6" y2="79.7"/>
<line x1="938.3" y1="1275.3" x2="938.3" y2="1261.3"/>
<line x1="938.3" y1="65.7" x2="938.3" y2="79.7"/>
<line x1="950.8" y1="1275.3" x2="950.8" y2="1261.3"/>
<line x1="950.8" y1="65.7" x2="950.8" y2="79.7"/>
<line x1="961.5" y1="1275.3" x2="961.5" y2="1261.3"/>
<line x1="961.5" y1="65.7" x2="961.5" y2="79.7"/>
<line x1="971.1" y1="1275.3" x2="971.1" y2="1261.3"/>
<line x1="971.1" y1="65.7" x2="971.1" y2="79.7"/>
<line x1="979.6" y1="1275.3" x2="979.6" y2="1249.3"/>
<line x1="979.6" y1="65.7" x2="979.6" y2="91.7"/>
<line x1="1035.6" y1="1275.3" x2="1035.6" y2="1261.3"/>
<line x1="1035.6" y1="65.7" x2="1035.6" y2="79.7"/>
<line x1="1068.4" y1="1275.3" x2="1068.4" y2="1261.3"/>
<line x1="1068.4" y1="65.7" x2="1068.4" y2="79.7"/>
<line x1="1091.6" y1="1275.3" x2="1091.6" y2="1261.3"/>
<line x1="1091.6" y1="65.7" x2="1091.6" y2="79.7"/>
<line x1="1109.6" y1="1275.3" x2="1109.6" y2="1261.3"/>
<line x1="1109.6" y1="65.7" x2="1109.6" y2="79.7"/>
<line x1="1124.4" y1="1275.3" x2="1124.4" y2="1261.3"/>
<line x1="1124.4" y1="65.7" x2="1124.4" y2="79.7"/>
<line x1="1136.8" y1="1275.3" x2="1136.8" y2="1261.3"/>
<line x1="1136.8" y1="65.7" x2="1136.8" y2="79.7"/>
<line x1="1147.6" y1="1275.3" x2="1147.6" y2="1261.3"/>
<line x1="1147.6" y1="65.7" x2="1147.6" y2="79.7"/>
<line x1="1157.1" y1="1275.3" x2="1157.1" y2="1261.3"/>
<line x1="1157.1" y1="65.7" x2="1157.1" y2="79.7"/>
<line x1="1165.6" y1="1275.3" x2="1165.6" y2="1249.3"/>
<line x1="1165.6" y1="65.7" x2="1165.6" y2="91.7"/>
<line x1="1221.7" y1="1275.3" x2="1221.7" y2="1261.3"/>
<line x1="1221.7" y1="65.7" x2="1221.7" y2="79.7"/>
<line x1="1254.4" y1="1275.3" x2="1254.4" y2="1261.3"/>
<line x1="1254.4" y1="65.7" x2="1254.4" y2="79.7"/>
<line x1="1277.7" y1="1275.3" x2="1277.7" y2="1261.3"/>
<line x1="1277.7" y1="65.7" x2="1277.7" y2="79.7"/>
<line x1="1295.7" y1="1275.3" x2="1295.7" y2="1261.3"/>
<line x1="1295.7" y1="65.7" x2="1295.7" y2="79.7"/>
<line x1="1310.4" y1="1275.3" x2="1310.4" y2="1261.3"/>
<line x1="1310.4" y1="65.7" x2="1310.4" y2="79.7"/>
<line x1="1322.9" y1="1275.3" x2="1322.9" y2="1261.3"/>
<line x1="1322.9" y1="65.7" x2="1322.9" y2="79.7"/>
<line x1="1333.7" y1="1275.3" x2="1333.7" y2="1261.3"/>
<line x1="1333.7" y1="65.7" x2="1333.7" y2="79.7"/>
<line x1="1343.2" y1="1275.3" x2="1343.2" y2="1261.3"/>
<line x1="1343.2" y1="65.7" x2="1343.2" y2="79.7"/>
<line x1="1351.7" y1="1275.3" x2="1351.7" y2="1249.3"/>
<line x1="1351.7" y1="65.7" x2="1351.7" y2="91.7"/>
<line x1="1407.7" y1="1275.3" x2="1407.7" y2="1261.3"/>
<line x1="1407.7" y1="65.7" x2="1407.7" y2="79.7"/>
<line x1="1440.5" y1="1275.3" x2="1440.5" y2="1261.3"/>
<line x1="1440.5" y1="65.7" x2="1440.5" y2="79.7"/>
<line x1="1463.7" y1="1275.3" x2="1463.7" y2="1261.3"/>
<line x1="1463.7" y1="65.7" x2="1463.7" y2="79.7"/>
<line x1="1481.8" y1="1275.3" x2="1481.8" y2="1261.3"/>
<line x1="1481.8" y1="65.7" x2="1481.8" y2="79.7"/>
<line x1="1496.5" y1="1275.3" x2="1496.5" y2="1261.3"/>
<line x1="1496.5" y1="65.7" x2="1496.5" y2="79.7"/>
<line x1="1509.0" y1="1275.3" x2="1509.0" y2="1261.3"/>
<line x1="1509.0" y1="65.7" x2="1509.0" y2="79.7"/>
<line x1="1519.8" y1="1275.3" x2="1519.8" y2="1261.3"/>
<line x1="1519.8" y1="65.7" x2="1519.8" y2="79.7"/>
<line x1="1529.3" y1="1275.3" x2="1529.3" y2="1261.3"/>
<line x1="1529.3" y1="65.7" x2="1529.3" y2="79.7"/>
<line x1="1537.8" y1="1275.3" x2="1537.8" y2="1249.3"/>
<line x1="1537.8" y1="65.7" x2="1537.8" y2="91.7"/>
<line x1="1593.8" y1="1275.3" x2="1593.8" y2="1261.3"/>
<line x1="1593.8" y1="65.7" x2="1593.8" y2="79.7"/>
<line x1="1626.6" y1="1275.3" x2="1626.6" y2="1261.3"/>
<line x1="1626.6" y1="65.7" x2="1626.6" y2="79.7"/>
<line x1="1649.8" y1="1275.3" x2="1649.8" y2="1261.3"/>
<line x1="1649.8" y1="65.7" x2="1649.8" y2="79.7"/>
<line x1="235.3" y1="1140.9" x2="249.3" y2="1140.9"/>
<line x1="1660.2" y1="1140.9" x2="1646.2" y2="1140.9"/>
<line x1="235.3" y1="1006.5" x2="261.3" y2="1006.5"/>
<line x1="1660.2" y1="1006.5" x2="1634.2" y2="1006.5"/>
<line x1="235.3" y1="872.1" x2="249.3" y2="872.1"/>
<line x1="1660.2" y1="872.1" x2="1646.2" y2="872.1"/>
<line x1="235.3" y1="737.7" x2="261.3" y2="737.7"/>
<line x1="1660.2" y1="737.7" x2="1634.2" y2="737.7"/>
<line x1="235.3" y1="603.3" x2="249.3" y2="603.3"/>
<line x1="1660.2" y1="603.3" x2="1646.2" y2="603.3"/>
<line x1="235.3" y1="468.9" x2="261.3" y2="468.9"/>
<line x1="1660.2" y1="468.9" x2="1634.2" y2="468.9"/>
<line x1="235.3" y1="334.5" x2="249.3" y2="334.5"/>
<line x1="1660.2" y1="334.5" x2="1646.2" y2="334.5"/>
<line x1="235.3" y1="200.1" x2="261.3" y2="200.1"/>
<line x1="1660.2" y1="200.1" x2="1634.2" y2="200.1"/>
</g>
<g>
<path d="M755.7 1191.8L774.2 1224.8L737.2 1224.8Z" fill="#000"/>
<path d="M878.0 1171.5L896.5 1204.5L859.5 1204.5Z" fill="#000"/>
<path d="M920.8 1153.1L939.3 1186.1L902.3 1186.1Z" fill="#000"/>
<path d="M951.4 1134.1L969.9 1167.1L932.9 1167.1Z" fill="#000"/>
<path d="M973.7 1118.5L992.2 1151.5L955.2 1151.5Z" fill="#000"/>
<path d="M997.7 1091.7L1016.2 1124.7L979.2 1124.7Z" fill="#000"/>
<path d="M1015.8 1066.8L1034.3 1099.8L997.3 1099.8Z" fill="#000"/>
<path d="M1033.8 1040.8L1052.3 1073.8L1015.3 1073.8Z" fill="#000"/>
<path d="M1052.4 1013.0L1070.9 1046.0L1033.9 1046.0Z" fill="#000"/>
<path d="M1066.1 989.2L1084.6 1022.2L1047.6 1022.2Z" fill="#000"/>
<path d="M1084.0 959.5L1102.5 992.5L1065.5 992.5Z" fill="#000"/>
<path d="M1100.0 930.5L1118.5 963.5L1081.5 963.5Z" fill="#000"/>
<path d="M1116.1 901.2L1134.6 934.2L1097.6 934.2Z" fill="#000"/>
<path d="M1134.2 872.5L1152.7 905.5L1115.7 905.5Z" fill="#000"/>
<path d="M1152.2 839.8L1170.7 872.8L1133.7 872.8Z" fill="#000"/>
<path d="M1179.0 793.0L1197.5 826.0L1160.5 826.0Z" fill="#000"/>
<path d="M827.4 1196.1L843.3 1212.0L827.4 1227.9L811.5 1212.0Z" fill="#fff" stroke="#000" stroke-width="6.1" stroke-linejoin="round"/>
<path d="M853.0 1189.6L868.9 1205.5L853.0 1221.4L837.1 1205.5Z" fill="#fff" stroke="#000" stroke-width="6.1" stroke-linejoin="round"/>
<path d="M895.7 1173.5L911.6 1189.4L895.7 1205.3L879.8 1189.4Z" fill="#fff" stroke="#000" stroke-width="6.1" stroke-linejoin="round"/>
<path d="M935.6 1148.6L951.5 1164.5L935.6 1180.4L919.7 1164.5Z" fill="#fff" stroke="#000" stroke-width="6.1" stroke-linejoin="round"/>
<path d="M970.0 1122.4L985.9 1138.3L970.0 1154.2L954.1 1138.3Z" fill="#fff" stroke="#000" stroke-width="6.1" stroke-linejoin="round"/>
<path d="M996.0 1095.9L1011.9 1111.8L996.0 1127.7L980.1 1111.8Z" fill="#fff" stroke="#000" stroke-width="6.1" stroke-linejoin="round"/>
<path d="M1010.0 1072.6L1025.9 1088.5L1010.0 1104.4L994.1 1088.5Z" fill="#fff" stroke="#000" stroke-width="6.1" stroke-linejoin="round"/>
<path d="M1030.0 1042.6L1045.9 1058.5L1030.0 1074.4L1014.1 1058.5Z" fill="#fff" stroke="#000" stroke-width="6.1" stroke-linejoin="round"/>
<path d="M1049.0 1016.1L1064.9 1032.0L1049.0 1047.9L1033.1 1032.0Z" fill="#fff" stroke="#000" stroke-width="6.1" stroke-linejoin="round"/>
<path d="M1066.3 986.4L1082.2 1002.3L1066.3 1018.2L1050.4 1002.3Z" fill="#fff" stroke="#000" stroke-width="6.1" stroke-linejoin="round"/>
<path d="M1084.3 952.6L1100.2 968.5L1084.3 984.4L1068.4 968.5Z" fill="#fff" stroke="#000" stroke-width="6.1" stroke-linejoin="round"/>
<path d="M1100.0 924.6L1115.9 940.5L1100.0 956.4L1084.1 940.5Z" fill="#fff" stroke="#000" stroke-width="6.1" stroke-linejoin="round"/>
<path d="M1118.0 895.9L1133.9 911.8L1118.0 927.7L1102.1 911.8Z" fill="#fff" stroke="#000" stroke-width="6.1" stroke-linejoin="round"/>
<path d="M1134.0 866.4L1149.9 882.3L1134.0 898.2L1118.1 882.3Z" fill="#fff" stroke="#000" stroke-width="6.1" stroke-linejoin="round"/>
<path d="M1150.5 839.6L1166.4 855.5L1150.5 871.4L1134.6 855.5Z" fill="#fff" stroke="#000" stroke-width="6.1" stroke-linejoin="round"/>
<path d="M1179.2 801.6L1195.1 817.5L1179.2 833.4L1163.3 817.5Z" fill="#fff" stroke="#000" stroke-width="6.1" stroke-linejoin="round"/>
</g>
<clipPath id="lc"><rect x="250" y="100" width="137.8" height="330"/></clipPath><g fill="none" stroke="#000" stroke-width="7" clip-path="url(#lc)">
<path d="M275.7 161.7 H387.8" stroke-dasharray="23.4 28.8" stroke-linecap="round"/>
<path d="M275.7 241.7 H395" stroke-linecap="round"/>
<path d="M276.3 400.6 H387" stroke-dasharray="25.4 17.5 2.3 18.5" stroke-linecap="round"/>
</g>
<path d="M330.8 300.0L349.3 333.0L312.3 333.0Z" fill="#000"/>
<path d="M331.8 465.3L347.6 481.1L331.8 496.9L316.0 481.1Z" fill="#fff" stroke="#000" stroke-width="4.3" stroke-linejoin="round"/>
<text transform="translate(208.60 1290.30) scale(0.9300 1)" font-size="63" text-anchor="end">0</text>
<text transform="translate(208.60 1021.50) scale(0.9300 1)" font-size="63" text-anchor="end">20</text>
<text transform="translate(208.60 752.70) scale(0.9300 1)" font-size="63" text-anchor="end">40</text>
<text transform="translate(208.60 483.90) scale(0.9300 1)" font-size="63" text-anchor="end">60</text>
<text transform="translate(208.60 215.10) scale(0.9300 1)" font-size="63" text-anchor="end">80</text>
<path d="M0.391 0L0.391 -0.705L0.329 -0.705Q0.27 -0.60 0.112 -0.527L0.112 -0.452Q0.23 -0.50 0.302 -0.548L0.302 0Z" transform="translate(189.03 1349.00) scale(58.5900 63.0000)" fill="#000" stroke="#000" stroke-width="0.9" vector-effect="non-scaling-stroke"/>
<text transform="translate(221.60 1349.00) scale(0.9300 1)" font-size="63" text-anchor="start">0</text>
<text transform="translate(254.18 1313.30) scale(0.9300 1)" font-size="37" text-anchor="start">-3</text>
<path d="M0.391 0L0.391 -0.705L0.329 -0.705Q0.27 -0.60 0.112 -0.527L0.112 -0.452Q0.23 -0.50 0.302 -0.548L0.302 0Z" transform="translate(375.10 1349.00) scale(58.5900 63.0000)" fill="#000" stroke="#000" stroke-width="0.9" vector-effect="non-scaling-stroke"/>
<text transform="translate(407.67 1349.00) scale(0.9300 1)" font-size="63" text-anchor="start">0</text>
<text transform="translate(440.25 1313.30) scale(0.9300 1)" font-size="37" text-anchor="start">-2</text>
<path d="M0.391 0L0.391 -0.705L0.329 -0.705Q0.27 -0.60 0.112 -0.527L0.112 -0.452Q0.23 -0.50 0.302 -0.548L0.302 0Z" transform="translate(561.17 1349.00) scale(58.5900 63.0000)" fill="#000" stroke="#000" stroke-width="0.9" vector-effect="non-scaling-stroke"/>
<text transform="translate(593.74 1349.00) scale(0.9300 1)" font-size="63" text-anchor="start">0</text>
<text transform="translate(626.32 1313.30) scale(0.9300 1)" font-size="37" text-anchor="start">-</text>
<path d="M0.391 0L0.391 -0.705L0.329 -0.705Q0.27 -0.60 0.112 -0.527L0.112 -0.452Q0.23 -0.50 0.302 -0.548L0.302 0Z" transform="translate(637.78 1313.30) scale(34.4100 37.0000)" fill="#000" stroke="#000" stroke-width="0.9" vector-effect="non-scaling-stroke"/>
<path d="M0.391 0L0.391 -0.705L0.329 -0.705Q0.27 -0.60 0.112 -0.527L0.112 -0.452Q0.23 -0.50 0.302 -0.548L0.302 0Z" transform="translate(752.97 1349.00) scale(58.5900 63.0000)" fill="#000" stroke="#000" stroke-width="0.9" vector-effect="non-scaling-stroke"/>
<text transform="translate(785.54 1349.00) scale(0.9300 1)" font-size="63" text-anchor="start">0</text>
<text transform="translate(818.12 1313.30) scale(0.9300 1)" font-size="37" text-anchor="start">0</text>
<path d="M0.391 0L0.391 -0.705L0.329 -0.705Q0.27 -0.60 0.112 -0.527L0.112 -0.452Q0.23 -0.50 0.302 -0.548L0.302 0Z" transform="translate(939.04 1349.00) scale(58.5900 63.0000)" fill="#000" stroke="#000" stroke-width="0.9" vector-effect="non-scaling-stroke"/>
<text transform="translate(971.61 1349.00) scale(0.9300 1)" font-size="63" text-anchor="start">0</text>
<path d="M0.391 0L0.391 -0.705L0.329 -0.705Q0.27 -0.60 0.112 -0.527L0.112 -0.452Q0.23 -0.50 0.302 -0.548L0.302 0Z" transform="translate(1004.19 1313.30) scale(34.4100 37.0000)" fill="#000" stroke="#000" stroke-width="0.9" vector-effect="non-scaling-stroke"/>
<path d="M0.391 0L0.391 -0.705L0.329 -0.705Q0.27 -0.60 0.112 -0.527L0.112 -0.452Q0.23 -0.50 0.302 -0.548L0.302 0Z" transform="translate(1125.11 1349.00) scale(58.5900 63.0000)" fill="#000" stroke="#000" stroke-width="0.9" vector-effect="non-scaling-stroke"/>
<text transform="translate(1157.68 1349.00) scale(0.9300 1)" font-size="63" text-anchor="start">0</text>
<text transform="translate(1190.26 1313.30) scale(0.9300 1)" font-size="37" text-anchor="start">2</text>
<path d="M0.391 0L0.391 -0.705L0.329 -0.705Q0.27 -0.60 0.112 -0.527L0.112 -0.452Q0.23 -0.50 0.302 -0.548L0.302 0Z" transform="translate(1311.18 1349.00) scale(58.5900 63.0000)" fill="#000" stroke="#000" stroke-width="0.9" vector-effect="non-scaling-stroke"/>
<text transform="translate(1343.75 1349.00) scale(0.9300 1)" font-size="63" text-anchor="start">0</text>
<text transform="translate(1376.33 1313.30) scale(0.9300 1)" font-size="37" text-anchor="start">3</text>
<path d="M0.391 0L0.391 -0.705L0.329 -0.705Q0.27 -0.60 0.112 -0.527L0.112 -0.452Q0.23 -0.50 0.302 -0.548L0.302 0Z" transform="translate(1497.25 1349.00) scale(58.5900 63.0000)" fill="#000" stroke="#000" stroke-width="0.9" vector-effect="non-scaling-stroke"/>
<text transform="translate(1529.82 1349.00) scale(0.9300 1)" font-size="63" text-anchor="start">0</text>
<text transform="translate(1562.40 1313.30) scale(0.9300 1)" font-size="37" text-anchor="start">4</text>
<path d="M0.391 0L0.391 -0.705L0.329 -0.705Q0.27 -0.60 0.112 -0.527L0.112 -0.452Q0.23 -0.50 0.302 -0.548L0.302 0Z" transform="translate(402.80 180.00) scale(51.7260 55.5000)" fill="#000" stroke="#000" stroke-width="0.9" vector-effect="non-scaling-stroke"/>
<text class="l" transform="translate(431.56 180.00) scale(0.9320 1)" font-size="55.5" text-anchor="start">0 cm<tspan font-size="33" dy="-29.3">3</tspan><tspan dy="29.3">, calculation</tspan></text>
<text class="l" transform="translate(402.80 259.60) scale(0.9320 1)" font-size="55.5" text-anchor="start">50 cm<tspan font-size="33" dy="-29.3">3</tspan><tspan dy="29.3">, calculation</tspan></text>
<text class="l" transform="translate(402.80 339.30) scale(0.9320 1)" font-size="55.5" text-anchor="start">50 cm<tspan font-size="33" dy="-29.3">3</tspan><tspan dy="29.3">, measurement</tspan></text>
<text class="l" transform="translate(402.80 418.70) scale(0.9320 1)" font-size="55.5" text-anchor="start">250 cm<tspan font-size="33" dy="-29.3">3</tspan><tspan dy="29.3">, calculation</tspan></text>
<text class="l" transform="translate(402.80 498.50) scale(0.9320 1)" font-size="55.5" text-anchor="start">250 cm<tspan font-size="33" dy="-29.3">3</tspan><tspan dy="29.3">, measurement</tspan></text>
<text class="l" transform="translate(296.74 620.30) skewX(-7) scale(0.9350 1)" font-size="55" text-anchor="start" font-style="italic">f</text>
<text class="l" transform="translate(307.33 620.30) scale(0.9350 1)" font-size="55" text-anchor="start">=40 Hz,</text>
<text class="l" transform="translate(296.55 682.60) skewX(-7) scale(0.9350 1)" font-size="55" text-anchor="start" font-style="italic">p</text>
<text class="l" transform="translate(320.51 706.60) scale(0.9350 1)" font-size="32" text-anchor="start">M</text>
<text class="l" transform="translate(348.13 682.60) scale(0.9350 1)" font-size="55" text-anchor="start">=2.0 MPa</text>
<text class="t" transform="translate(771.48 1441.20) skewX(-7) scale(0.9260 1)" font-size="62.2" text-anchor="start" font-style="italic">A</text>
<text class="t" transform="translate(805.38 1405.60) scale(0.9260 1)" font-size="35" text-anchor="start">2</text>
<text class="t" transform="translate(827.67 1441.20) skewX(-7) scale(0.9260 1)" font-size="62.2" text-anchor="start" font-style="italic">R</text>
<text class="t" transform="translate(866.78 1465.20) scale(0.9260 1)" font-size="33" text-anchor="start">a</text>
<text class="t" transform="translate(900.74 1441.20) scale(0.9260 1)" font-size="62.2" text-anchor="start">(Pa</text>
<text class="t" transform="translate(1009.27 1441.20) scale(0.9260 1)" font-size="62.2" text-anchor="start">m</text>
<text class="t" transform="translate(1078.27 1441.20) scale(0.9260 1)" font-size="62.2" text-anchor="start">s)</text>
<rect x="997.3" y="1412.5" width="5.4" height="3.8" fill="#000"/><rect x="1066.5" y="1412.5" width="5.2" height="3.8" fill="#000"/>
<g transform="translate(82.6 737) rotate(-90)">
<text class="t" transform="translate(-8.87 0.00) skewX(-7) scale(0.9785 1)" font-size="63.3" text-anchor="start" font-style="italic">W</text>
<text transform="translate(47.77 24) scale(0.9500 1)" font-size="35" class="t">e</text>
<text transform="translate(84.89 0) scale(0.9950 1)" font-size="63.3" class="t">(W)</text>
</g>
</svg></body></html>
